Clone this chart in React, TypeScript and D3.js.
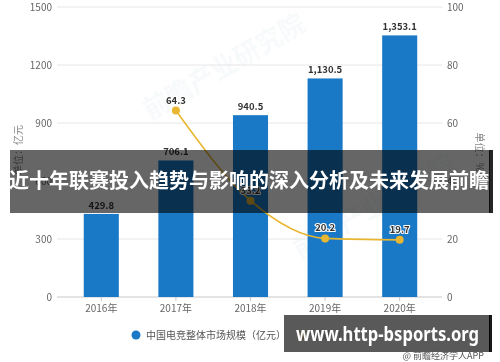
import React from "react";
import * as d3 from "d3";

const years = ["2016年", "2017年", "2018年", "2019年", "2020年"];
const marketSize = [429.8, 706.1, 940.5, 1130.5, 1353.1];
const growthYears = ["2017年", "2018年", "2019年", "2020年"];
const growthRate = [64.3, 33.2, 20.2, 19.7];
const leftTicks = [0, 300, 600, 900, 1200, 1500];
const rightTicks = [0, 20, 40, 60, 80, 100];
const legendLabels = ["中国电竞整体市场规模（亿元）", "增速（%）"];
const titleText = "近十年联赛投入趋势与影响的深入分析及未来发展前瞻";
const watermarkText = "www.http-bsports.org";
const sourceText = "@ 前瞻经济学人APP";

const FONT = "'Noto Sans CJK SC', 'Noto Sans', sans-serif";

export default function App() {
  const W = 500, H = 362;
  const gridL = 57, gridR = 442;
  const x = d3.scaleBand<string>().domain(years).range([64, 437]).paddingInner(0.53).paddingOuter(0.265);
  const yL = d3.scaleLinear().domain([0, 1500]).range([297, 7]);
  const yR = d3.scaleLinear().domain([0, 100]).range([297, 7]);
  const cx = (c: string) => (x(c) as number) + x.bandwidth() / 2;
  const fmt = d3.format(",.1f");
  const line = d3
    .line<number>()
    .x((_, i) => cx(growthYears[i]))
    .y((d) => yR(d))
    .curve(d3.curveMonotoneX);
  const gold = "#e8b631";
  const blue = "#1a79c6";

  return (
    <svg
      width={W}
      height={H}
      style={{ position: "absolute", left: 0, top: 0, background: "#fff", fontFamily: FONT }}
    >
      {/* faint watermark */}
      <g opacity={0.035} fill="#1a5a8a" fontWeight="bold">
        <text x={150} y={120} fontSize={26} transform="rotate(-30 150 120)">前瞻产业研究院</text>
        <text x={300} y={260} fontSize={26} transform="rotate(-30 300 260)">前瞻产业研究院</text>
      </g>
      {/* gridlines */}
      {leftTicks.map((t) => (
        <line key={t} x1={gridL} x2={gridR} y1={yL(t)} y2={yL(t)} stroke={t === 0 ? "#c8c8c8" : "#e6e6e6"} strokeWidth={1} />
      ))}
      {/* left tick labels */}
      {leftTicks.map((t) => (
        <text key={"l" + t} x={52} y={yL(t) + 3.5} fontSize={10} fill="#666" textAnchor="end">
          {t}
        </text>
      ))}
      {/* right tick labels */}
      {rightTicks.map((t) => (
        <text key={"r" + t} x={447} y={yR(t) + 3.5} fontSize={10} fill="#666" textAnchor="start">
          {t}
        </text>
      ))}
      {/* axis titles */}
      <text x={0} y={0} fontSize={10} fill="#888" textAnchor="middle" transform={`translate(22,150) rotate(-90)`}>
        单位：亿元
      </text>
      <text x={0} y={0} fontSize={10} fill="#888" textAnchor="middle" transform={`translate(476,152) rotate(90)`}>
        单位：%
      </text>
      {/* bars */}
      {years.map((c, i) => (
        <rect key={c} x={x(c)} y={yL(marketSize[i])} width={x.bandwidth()} height={yL(0) - yL(marketSize[i])} fill={blue} />
      ))}
      {/* bar labels */}
      {years.map((c, i) => (
        <text key={"bl" + c} x={cx(c)} y={yL(marketSize[i]) - 5} fontSize={9.5} fontWeight="bold" fill="#333" textAnchor="middle">
          {fmt(marketSize[i])}
        </text>
      ))}
      {/* x ticks & labels */}
      {years.map((c) => (
        <g key={"x" + c}>
          <line x1={cx(c)} x2={cx(c)} y1={297} y2={301} stroke="#c8c8c8" />
          <text x={cx(c)} y={312} fontSize={10} fill="#666" textAnchor="middle">
            {c}
          </text>
        </g>
      ))}
      {/* growth line */}
      <path d={line(growthRate) || ""} fill="none" stroke={gold} strokeWidth={1.6} />
      {growthRate.map((v, i) => (
        <circle key={"p" + i} cx={cx(growthYears[i])} cy={yR(v)} r={4} fill={gold} />
      ))}
      {growthRate.map((v, i) => (
        <text
          key={"gl" + i}
          x={cx(growthYears[i])}
          y={yR(v) - 7}
          fontSize={9.5}
          fontWeight="bold"
          fill="#333"
          textAnchor="middle"
          stroke="#fff"
          strokeWidth={2}
          paintOrder="stroke"
        >
          {v.toFixed(1)}
        </text>
      ))}
      {/* legend */}
      <circle cx={136} cy={335} r={4.5} fill={blue} />
      <text x={146} y={338.5} fontSize={10} fill="#555">
        {legendLabels[0]}
      </text>
      <circle cx={302} cy={335} r={4.5} fill={gold} />
      <text x={312} y={338.5} fontSize={10} fill="#555">
        {legendLabels[1]}
      </text>
      {/* title overlay */}
      <rect x={10} y={150} width={480} height={63} fill="#000" opacity={0.6} />
      <rect x={489} y={150} width={4} height={63} fill="#000" opacity={0.85} />
      <text x={249} y={188} fontSize={20} fontWeight="bold" fill="#fff" textAnchor="middle">
        {titleText}
      </text>
      {/* watermark box */}
      <rect x={284} y={315} width={206} height={37} fill="#3c3c3c" opacity={0.85} />
      <rect x={489} y={315} width={3} height={37} fill="#000" opacity={0.9} />
      <text
        x={296}
        y={341}
        fontSize={19}
        fontWeight="bold"
        fill="#fff"
        textLength={183}
        lengthAdjust="spacingAndGlyphs"
        fontFamily="'Noto Sans', 'DejaVu Sans', sans-serif"
      >
        {watermarkText}
      </text>
      <text x={484} y={359} fontSize={9} fill="#555" textAnchor="end">
        {sourceText}
      </text>
    </svg>
  );
}
